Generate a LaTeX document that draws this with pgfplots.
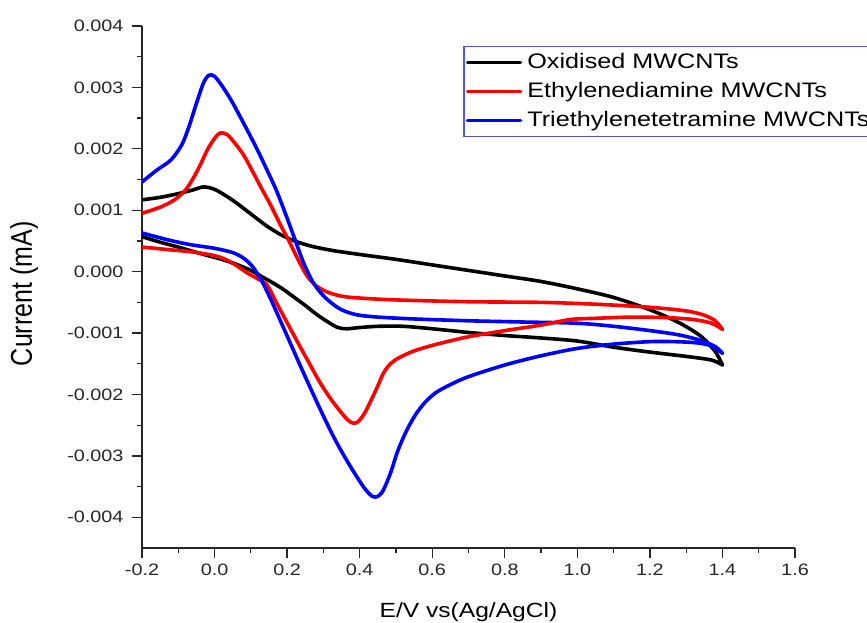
\documentclass[border=0pt]{standalone}
\usepackage{fontspec}
\setmainfont{Liberation Sans}[FakeStretch=1.2]
\newfontfamily\plainsans{Liberation Sans}
\usepackage{graphicx}
\usepackage{pgfplots}
\pgfplotsset{compat=1.18}
\definecolor{legborder}{RGB}{85,85,225}
\begin{document}
\begin{tikzpicture}
\begin{axis}[
  scale only axis, width=653pt, height=522pt,
  xmin=-0.2, xmax=1.6, ymin=-0.0045, ymax=0.004,
  axis lines=left,
  axis line style={-, line width=1.4pt, color=black!85},
  xtick={-0.2,0,0.2,0.4,0.6,0.8,1.0,1.2,1.4,1.6},
  ytick={-0.004,-0.003,-0.002,-0.001,0,0.001,0.002,0.003,0.004},
  minor x tick num=1, minor y tick num=1,
  tick align=outside,
  major tick length=9.5pt, minor tick length=4.5pt,
  every tick/.style={line width=1.3pt, color=black!85},
  scaled x ticks=false, scaled y ticks=false,
  /pgf/number format/assume math mode=true,
  tick label style={font=\fontsize{16.5}{19}\selectfont, color=black!85},
  xticklabel style={/pgf/number format/.cd, fixed, fixed zerofill, precision=1, /tikz/.cd, yshift=-3pt},
  yticklabel style={/pgf/number format/.cd, fixed, fixed zerofill, precision=3, /tikz/.cd, xshift=-5.5pt},
  xlabel={E/V vs(Ag/AgCl)},
  ylabel={\scalebox{1}[1.2]{\plainsans\fontsize{25}{28}\selectfont Current (mA)}},
  xlabel style={font=\fontsize{20.5}{23}\selectfont, at={(axis description cs:0.5,0)}, anchor=base, yshift=-69pt},
  ylabel style={at={(axis description cs:-0.1685,0.487)}, anchor=base},
  legend style={at={(0.4916,0.962)}, anchor=north west, draw=legborder, line width=1.5pt,
    fill=white, font=\fontsize{21}{24}\selectfont, inner xsep=2pt, inner ysep=6pt,
    row sep=9pt, nodes={text height=16pt, text depth=4pt, inner ysep=0pt},
    /tikz/every odd column/.append style={column sep=3pt}},
  legend cell align=left,
  legend image code/.code={\draw[#1] (0pt,0pt) -- (53pt,0pt);},
  every axis plot/.append style={line width=3.6pt, line join=round, line cap=round},
]
% Oxidised MWCNTs
\addplot[black, smooth] coordinates {
(-0.2,0.00117) (-0.15,0.00121) (-0.1,0.00127) (-0.06,0.00133) (-0.03,0.00138)
(0.0,0.00134) (0.03,0.00124) (0.06,0.00112) (0.1,0.00094) (0.14,0.00076)
(0.18,0.00061) (0.22,0.00050) (0.27,0.00041) (0.33,0.00034) (0.4,0.00028)
(0.5,0.00020) (0.6,0.00011) (0.7,0.00002) (0.8,-0.00007) (0.9,-0.00016)
(1.0,-0.00028) (1.1,-0.00042) (1.2,-0.00062) (1.28,-0.00083) (1.34,-0.00105)
(1.38,-0.00130) (1.4,-0.00152)};
\addlegendentry{Oxidised MWCNTs}
% Ethylenediamine MWCNTs
\addplot[red, smooth] coordinates {
(-0.2,0.00095) (-0.15,0.00105) (-0.11,0.00117) (-0.08,0.00133) (-0.06,0.00151)
(-0.04,0.00173) (-0.02,0.00198) (0.0,0.00217) (0.016,0.00226) (0.035,0.00223)
(0.055,0.00210) (0.08,0.00190) (0.105,0.00163) (0.13,0.00135) (0.155,0.00108)
(0.18,0.00078) (0.205,0.00050) (0.23,0.00020) (0.255,-0.00007) (0.28,-0.00023)
(0.31,-0.00033) (0.35,-0.00040) (0.4,-0.00043) (0.5,-0.00046) (0.7,-0.00049)
(0.9,-0.00050) (1.05,-0.00053) (1.2,-0.00058) (1.3,-0.00064) (1.35,-0.00071)
(1.38,-0.00080) (1.4,-0.00094)};
\addlegendentry{Ethylenediamine MWCNTs}
% Triethylenetetramine MWCNTs
\addplot[blue, smooth] coordinates {
(-0.2,0.00146) (-0.16,0.00165) (-0.12,0.00182) (-0.09,0.00207) (-0.07,0.00237)
(-0.05,0.00274) (-0.03,0.00308) (-0.015,0.00320) (0.0,0.00318) (0.02,0.00303)
(0.045,0.00280) (0.07,0.00253) (0.095,0.00225) (0.12,0.00196) (0.145,0.00165)
(0.17,0.00133) (0.195,0.00095) (0.22,0.00055) (0.245,0.00015) (0.27,-0.00016)
(0.295,-0.00036) (0.32,-0.00050) (0.35,-0.00062) (0.39,-0.00070) (0.45,-0.00074)
(0.55,-0.00077) (0.7,-0.00080) (0.85,-0.00082) (1.0,-0.00084) (1.1,-0.00089)
(1.2,-0.00096) (1.28,-0.00103) (1.34,-0.00112) (1.38,-0.00122) (1.4,-0.00133)};
\addlegendentry{Triethylenetetramine MWCNTs}
% return branches
\addplot[black, smooth, forget plot] coordinates {
(1.4,-0.00152) (1.37,-0.00144) (1.3,-0.00138) (1.2,-0.00131) (1.1,-0.00123)
(1.0,-0.00113) (0.9,-0.00108) (0.8,-0.00104) (0.7,-0.00099) (0.6,-0.00093)
(0.52,-0.00089) (0.45,-0.00089) (0.4,-0.00091) (0.365,-0.00093) (0.34,-0.00091)
(0.31,-0.00081) (0.28,-0.00069) (0.25,-0.00055) (0.22,-0.00042) (0.19,-0.00029)
(0.16,-0.00018) (0.13,-0.00008) (0.1,0.00002) (0.06,0.00012) (0.02,0.00020)
(-0.03,0.00028) (-0.1,0.00040) (-0.15,0.00048) (-0.2,0.00057)};
\addplot[red, smooth, forget plot] coordinates {
(1.4,-0.00094) (1.37,-0.00084) (1.32,-0.00078) (1.25,-0.00075) (1.15,-0.00074)
(1.05,-0.00076) (0.98,-0.00078) (0.9,-0.00087) (0.8,-0.00096) (0.7,-0.00106)
(0.62,-0.00117) (0.56,-0.00127) (0.53,-0.00134) (0.5,-0.00143) (0.48,-0.00153)
(0.465,-0.00166) (0.45,-0.00186) (0.435,-0.00205) (0.415,-0.00229) (0.398,-0.00243)
(0.385,-0.00247) (0.37,-0.00243)
(0.35,-0.00230) (0.32,-0.00207) (0.29,-0.00180) (0.26,-0.00148) (0.23,-0.00116)
(0.2,-0.00083) (0.17,-0.00050) (0.145,-0.00022) (0.12,-0.00012) (0.09,-0.00002)
(0.06,0.00010) (0.03,0.00020) (0.0,0.00026) (-0.06,0.00032) (-0.13,0.00036)
(-0.2,0.00040)};
\addplot[blue, smooth, forget plot] coordinates {
(1.4,-0.00133) (1.37,-0.00121) (1.33,-0.00116) (1.27,-0.00114) (1.2,-0.00114)
(1.1,-0.00118) (1.0,-0.00125) (0.9,-0.00137) (0.8,-0.00152) (0.7,-0.00171)
(0.65,-0.00184) (0.61,-0.00197) (0.58,-0.00213) (0.555,-0.00232) (0.53,-0.00258)
(0.505,-0.00292) (0.485,-0.00328) (0.465,-0.00356) (0.45,-0.00366) (0.435,-0.00366)
(0.415,-0.00354) (0.39,-0.00332) (0.36,-0.00303) (0.33,-0.00271) (0.3,-0.00235)
(0.27,-0.00197) (0.24,-0.00158) (0.21,-0.00118) (0.18,-0.00078) (0.155,-0.00045)
(0.13,-0.00015) (0.105,0.00008) (0.08,0.00022) (0.05,0.00031) (0.0,0.00038)
(-0.067,0.00044) (-0.13,0.00052) (-0.2,0.00063)};
\end{axis}
\pgfresetboundingbox
\useasboundingbox (-142pt,-74pt) rectangle (725pt,548pt);
\end{tikzpicture}
\end{document}
